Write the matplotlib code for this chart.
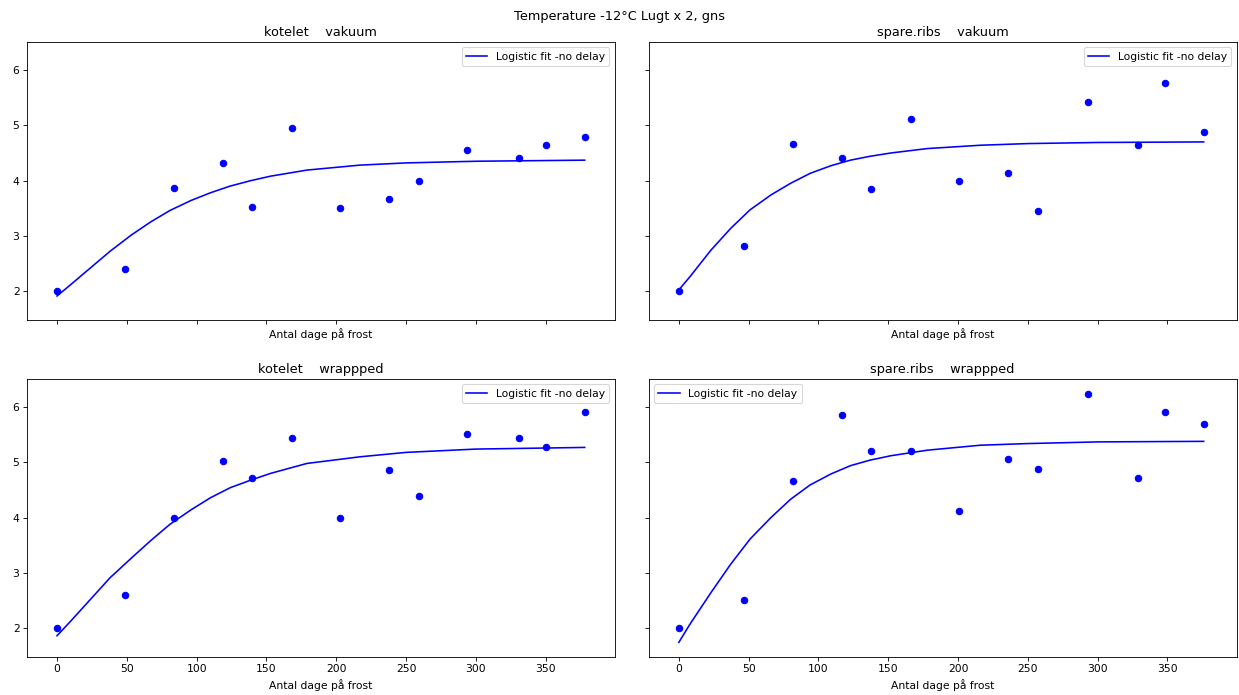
import matplotlib
matplotlib.use('Agg')
import matplotlib.pyplot as plt

# measurement days
days_kotelet = [0, 49, 84, 119, 140, 168, 203, 238, 259, 294, 331, 350, 378]
days_spare = [0, 47, 82, 117, 138, 166, 201, 236, 257, 293, 329, 348, 376]

# mean smell scores
kotelet_vakuum = [2.00, 2.40, 3.86, 4.32, 3.52, 4.96, 3.50, 3.67, 4.00, 4.56, 4.41, 4.64, 4.79]
spare_vakuum = [2.00, 2.81, 4.67, 4.41, 3.84, 5.12, 4.00, 4.13, 3.45, 5.43, 4.64, 5.76, 4.88]
kotelet_wrapped = [2.00, 2.59, 4.00, 5.03, 4.71, 5.44, 4.00, 4.86, 4.39, 5.52, 5.44, 5.28, 5.92]
spare_wrapped = [2.00, 2.50, 4.67, 5.85, 5.20, 5.20, 4.11, 5.06, 4.88, 6.24, 4.72, 5.92, 5.69]

# logistic fit curves
fit_x_kotelet = [0, 10, 24, 38, 53, 67, 81, 96, 110, 124, 139, 153, 179, 217, 250, 300, 378]
fit_x_spare = [0, 8, 23, 37, 51, 66, 80, 94, 109, 123, 137, 152, 178, 216, 250, 300, 376]
fit_kotelet_vakuum = [1.91, 2.12, 2.42, 2.72, 3.01, 3.25, 3.46, 3.64, 3.78, 3.90, 4.00, 4.08,
                      4.19, 4.28, 4.32, 4.35, 4.37]
fit_spare_vakuum = [2.02, 2.26, 2.74, 3.13, 3.47, 3.74, 3.95, 4.13, 4.27, 4.37, 4.44, 4.50,
                    4.58, 4.64, 4.67, 4.69, 4.70]
fit_kotelet_wrapped = [1.86, 2.13, 2.52, 2.91, 3.26, 3.58, 3.88, 4.14, 4.36, 4.54, 4.68, 4.80,
                       4.98, 5.10, 5.18, 5.24, 5.27]
fit_spare_wrapped = [1.74, 2.07, 2.64, 3.15, 3.61, 4.00, 4.33, 4.59, 4.79, 4.94, 5.04, 5.12,
                     5.22, 5.31, 5.34, 5.37, 5.38]

panels = [
    ('kotelet    vakuum', days_kotelet, kotelet_vakuum, fit_x_kotelet, fit_kotelet_vakuum, 'upper right'),
    ('spare.ribs    vakuum', days_spare, spare_vakuum, fit_x_spare, fit_spare_vakuum, 'upper right'),
    ('kotelet    wrappped', days_kotelet, kotelet_wrapped, fit_x_kotelet, fit_kotelet_wrapped, 'upper right'),
    ('spare.ribs    wrappped', days_spare, spare_wrapped, fit_x_spare, fit_spare_wrapped, 'upper left'),
]

fig, axes = plt.subplots(2, 2, sharex=True, sharey=True, figsize=(1239 / 77, 695 / 77), dpi=77)
fig.subplots_adjust(left=0.0218, right=0.998, top=0.9396, bottom=0.0547, wspace=0.058, hspace=0.212)

for ax, (title, x, y, fx, fy, loc) in zip(axes.flat, panels):
    ax.plot(x, y, 'bo')
    ax.plot(fx, fy, 'b-', label='Logistic fit -no delay')
    ax.set_title(title)
    ax.set_xlabel('Antal dage på frost')
    ax.legend(loc=loc)
    ax.tick_params(labelbottom=ax in axes[1], labelleft=ax in axes[:, 0])

axes[0, 0].set_xlim(-21.5, 399.5)
axes[0, 0].set_ylim(1.475, 6.51)

fig.suptitle('Temperature -12°C Lugt x 2, gns', y=0.985)

fig.savefig('out.png', dpi=77)
